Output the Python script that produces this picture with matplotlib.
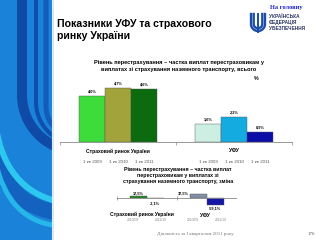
import numpy as np
import matplotlib.pyplot as plt
from matplotlib.path import Path
from matplotlib.patches import PathPatch, Rectangle
import matplotlib.transforms as mtrans

plt.rcParams['font.family'] = ['Liberation Sans', 'DejaVu Sans']

# chart 1: share of reinsurance payouts, %
groups = ['Страховий ринок України', 'УФУ']
periods = ['1 кв 2009', '1 кв 2010', '1 кв 2011']
share_market = [4.0, 4.7, 4.6]
share_ufu = [1.6, 2.2, 0.9]

# chart 2: change, %
change_periods = ['2010/09', '2011/10']
change_market = [17.5, -2.1]
change_ufu = [37.5, -59.1]

fig = plt.figure(figsize=(3.2, 2.4), dpi=100)

# background layer in pixel coordinates
bg = fig.add_axes([0, 0, 1, 1])
bg.set_xlim(0, 320)
bg.set_ylim(240, 0)
bg.axis('off')

# left decorative strip
strip = Rectangle((0, 0), 52, 240, color='#1a82d8', zorder=1)
bg.add_patch(strip)

def u_stripe(x0, cx, cy, width, color):
    r = cx - x0
    t = np.linspace(0, np.pi / 2, 40)
    xs = np.concatenate([[x0], cx - r * np.cos(t)])
    ys = np.concatenate([[-5], cy + r * np.sin(t)])
    ln, = bg.plot(xs, ys, color=color, lw=width * 0.72, solid_capstyle='butt', zorder=2)
    ln.set_clip_path(strip)

def curve(p0, c, p1, width, color):
    pth = Path([p0, c, p1], [Path.MOVETO, Path.CURVE3, Path.CURVE3])
    pp = PathPatch(pth, fill=False, lw=width * 0.72, edgecolor=color, zorder=2)
    bg.add_patch(pp)
    pp.set_clip_path(strip)

curve((-5, 145), (2, 205), (60, 213), 16, '#1462c0')
curve((-5, 122), (4, 190), (60, 202), 6, '#2cc8f0')
curve((-5, 160), (8, 222), (60, 226), 5, '#25b6ea')
u_stripe(22, 78, 95, 10, '#0e4aa6')
u_stripe(36, 78, 102, 4, '#0f4eac')
u_stripe(46, 78, 106, 5, '#145cba')
bg.plot([52, 52], [0, 240], color='#dfeefa', lw=0.8, zorder=3)

# header
bg.text(57, 27, 'Показники УФУ та страхового', fontsize=7.6, fontweight='bold', va='baseline', zorder=4)
bg.text(57, 39, 'ринку України', fontsize=7.6, fontweight='bold', va='baseline', zorder=4)
bg.text(286, 9, 'На головну', fontsize=4.6, fontweight='bold', color='#1a22cc',
        family=['Liberation Serif'], ha='center', va='baseline', zorder=4)

# logo
lc = '#1b4ea6'
cx, top = 258, 14
for r in [7, 4.3]:
    t = np.linspace(np.pi, 2 * np.pi, 30)
    xs = np.concatenate([[cx - r], cx + r * np.cos(t), [cx + r]])
    ys = np.concatenate([[top], 24 - r * np.sin(t), [top]])
    bg.plot(xs, ys, color=lc, lw=1.7, zorder=4)
bg.plot([cx, cx], [top, 32], color=lc, lw=1.4, zorder=4)
for i, s in enumerate(['УКРАЇНСЬКА', 'ФЕДЕРАЦІЯ', 'УБЕЗПЕЧЕННЯ']):
    bg.text(269, 18.5 + i * 5.5, s, fontsize=3.4, fontweight='bold', color='#2a3560',
            va='baseline', zorder=4)

# titles
bg.text(179, 64, 'Рівень перестрахування – частка виплат перестраховикам у',
        fontsize=4.1, fontweight='bold', ha='center', va='baseline', zorder=4)
bg.text(179, 71, 'виплатах зі страхування наземного транспорту, всього',
        fontsize=4.1, fontweight='bold', ha='center', va='baseline', zorder=4)
bg.text(256, 80, '%', fontsize=3.8, fontweight='bold', ha='center', va='baseline', zorder=4)
for i, s in enumerate(['Рівень перестрахування – частка виплат',
                       'перестраховикам у виплатах зі',
                       'страхування наземного транспорту, зміна']):
    bg.text(178, 171 + i * 6, s, fontsize=3.8, fontweight='bold', ha='center',
            va='baseline', zorder=4)

# footer
bg.text(195, 235, 'Діяльність за I кварталом 2011 року', fontsize=3.6, color='#777777',
        family=['Liberation Serif'], ha='center', va='baseline', zorder=4)
bg.text(311, 235, '176', fontsize=3.6, color='#555555', family=['Liberation Serif'],
        ha='center', va='baseline', zorder=4)

# chart 1
ax1 = fig.add_axes([60 / 320, 98 / 240, 232 / 320, 64 / 240])
ax1.patch.set_alpha(0)
w = 0.224
offs = np.array([-w, 0, w])
cols_m = ['#3ddc3a', '#a3a33c', '#0b6b0e']
cols_u = ['#cdeee2', '#14ace0', '#0b0fa8']
ax1.bar(0 + offs, share_market, width=w, color=cols_m, edgecolor='#555555', lw=0.3)
ax1.bar(1 + offs, share_ufu, width=w, color=cols_u, edgecolor='#555555', lw=0.3)
for g, vals in enumerate([share_market, share_ufu]):
    for o, v in zip(offs, vals):
        ax1.text(g + o, v + 0.18, f'{v:.1f}%'.replace('.', ','), fontsize=2.8,
                 fontweight='bold', ha='center', va='bottom')
ax1.set_xlim(-0.5, 1.5)
ax1.set_ylim(0, 5.55)
for s in ['top', 'right', 'left']:
    ax1.spines[s].set_visible(False)
ax1.spines['bottom'].set_color('#888888')
ax1.spines['bottom'].set_linewidth(0.6)
ax1.set_xticks([-0.5, 0.5, 1.5])
ax1.set_xticklabels([])
ax1.tick_params(axis='x', length=2, width=0.5, color='#888888')
ax1.set_yticks([])
tr1 = mtrans.blended_transform_factory(ax1.transData, ax1.transAxes)
for g, name in enumerate(groups):
    ax1.text(g, -0.1, name, transform=tr1, fontsize=3.6, fontweight='bold',
             ha='center', va='top')
    for o, p in zip(offs, periods):
        ax1.text(g + o, -0.28, p, transform=tr1, fontsize=3.2, color='#555555',
                 ha='center', va='top')

# chart 2
ax2 = fig.add_axes([117 / 320, 29 / 240, 120 / 320, 21 / 240])
ax2.patch.set_alpha(0)
w2 = 0.28
offs2 = np.array([-w2 / 2, w2 / 2])
ax2.bar(0 + offs2, change_market, width=w2, color=['#1f8a22', '#9a9a9a'],
        edgecolor='#555555', lw=0.3)
ax2.bar(1 + offs2, change_ufu, width=w2, color=['#8090a4', '#1616a6'],
        edgecolor='#555555', lw=0.3)
ax2.axhline(0, color='#888888', lw=0.6)
ax2.vlines([-0.5, 0.5, 1.5], -14, 14, color='#888888', lw=0.5)
ax2.set_xlim(-0.5, 1.5)
ax2.set_ylim(-108, 67)
ax2.axis('off')
fmt = lambda v: f'{v:.1f}%'.replace('.', ',')
ax2.text(offs2[0], change_market[0] + 8, fmt(change_market[0]), fontsize=2.8,
         fontweight='bold', ha='center', va='bottom')
ax2.text(offs2[1], -25, fmt(change_market[1]), fontsize=2.8, fontweight='bold',
         ha='center', va='top')
ax2.text(1 + offs2[0] - w2 / 2 - 0.02, change_ufu[0], fmt(change_ufu[0]), fontsize=2.8,
         fontweight='bold', ha='right', va='center')
ax2.text(1 + offs2[1], change_ufu[1] - 8, fmt(change_ufu[1]), fontsize=2.8,
         fontweight='bold', ha='center', va='top')
tr2 = mtrans.blended_transform_factory(ax2.transData, ax2.transAxes)
ax2.text(-0.08, -0.03, groups[0], transform=tr2, fontsize=3.6, fontweight='bold',
         ha='center', va='top')
ax2.text(0.97, -0.1, groups[1], transform=tr2, fontsize=3.6, fontweight='bold',
         ha='center', va='top')
for g in [0, 1]:
    for o, p in zip(offs2 * 1.7, change_periods):
        ax2.text(g + o, -0.33, p, transform=tr2, fontsize=2.4, color='#888888',
                 ha='center', va='top')

fig.savefig('out.png', dpi=100)
